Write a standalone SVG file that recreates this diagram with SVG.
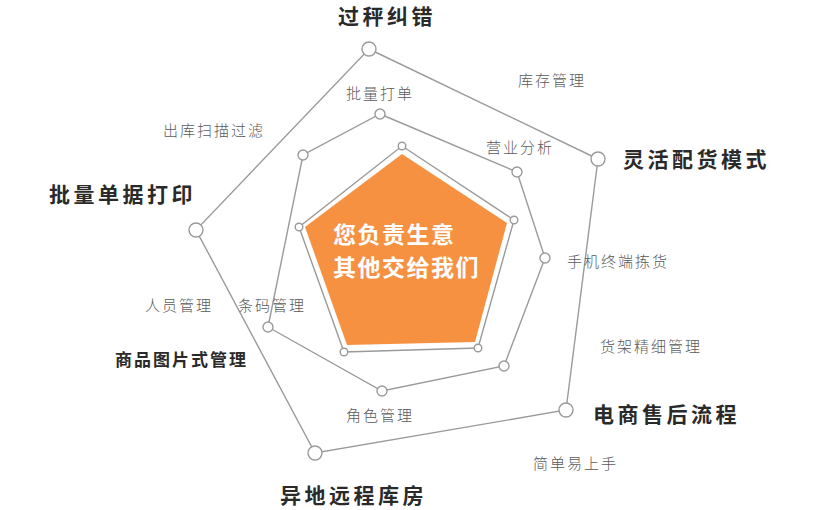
<svg xmlns="http://www.w3.org/2000/svg" width="816" height="510" viewBox="0 0 816 510">
<style>
.ln{fill:none;stroke:#9a9a9a;stroke-width:1.4}
.dot{fill:#fff;stroke:#9a9a9a;stroke-width:1.4}
.big{font-family:"Noto Sans CJK SC","Noto Sans",sans-serif;font-weight:700;font-size:21px;letter-spacing:3.5px;fill:#2a2a2a}
.mid{font-family:"Noto Sans CJK SC","Noto Sans",sans-serif;font-weight:700;font-size:17px;letter-spacing:2px;fill:#2a2a2a}
.sm{font-family:"Noto Sans CJK SC","Noto Sans",sans-serif;font-weight:300;font-size:15px;letter-spacing:2px;fill:#5a5a5a}
.ctr{font-family:"Noto Sans CJK SC","Noto Sans",sans-serif;font-weight:700;font-size:23px;letter-spacing:1.5px;fill:#fff}
</style>
<rect width="816" height="510" fill="#fff"/>
<g id="connectors">
<polygon class="ln" points="369,49 598,159 566,410 315,453 196,230"/>
<polygon class="ln" points="380,114 517,172 545,258 504,366 382,391 268,327 303,155"/>
<polygon class="ln" points="402,146 514,220 478,348 344,352 299,227"/>
</g>
<g id="core">
<polygon points="402,154 507,223 475,342 347,345 305,227" fill="#F79142"/>
<text class="ctr" x="333" y="243">您负责生意</text>
<text class="ctr" x="333" y="276">其他交给我们</text>
</g>
<g id="outer-nodes">
<circle class="dot" cx="369" cy="49" r="7"/>
<circle class="dot" cx="598" cy="159" r="7"/>
<circle class="dot" cx="566" cy="410" r="7"/>
<circle class="dot" cx="315" cy="453" r="7"/>
<circle class="dot" cx="196" cy="230" r="7"/>
</g>
<g id="middle-nodes">
<circle class="dot" cx="380" cy="114" r="5"/>
<circle class="dot" cx="517" cy="172" r="5"/>
<circle class="dot" cx="545" cy="258" r="5"/>
<circle class="dot" cx="504" cy="366" r="5"/>
<circle class="dot" cx="382" cy="391" r="5"/>
<circle class="dot" cx="268" cy="327" r="5"/>
<circle class="dot" cx="303" cy="155" r="5"/>
</g>
<g id="inner-nodes">
<circle class="dot" cx="402" cy="146" r="3.8"/>
<circle class="dot" cx="514" cy="220" r="3.8"/>
<circle class="dot" cx="478" cy="348" r="3.8"/>
<circle class="dot" cx="344" cy="352" r="3.8"/>
<circle class="dot" cx="299" cy="227" r="3.8"/>
</g>
<g id="main-labels">
<text class="big" x="338" y="24">过秤纠错</text>
<text class="big" x="623" y="167">灵活配货模式</text>
<text class="big" x="49" y="202">批量单据打印</text>
<text class="mid" x="115" y="366">商品图片式管理</text>
<text class="big" x="593" y="422">电商售后流程</text>
<text class="big" x="280" y="503">异地远程库房</text>
</g>
<g id="feature-labels">
<text class="sm" x="518" y="86">库存管理</text>
<text class="sm" x="346" y="99">批量打单</text>
<text class="sm" x="163" y="136">出库扫描过滤</text>
<text class="sm" x="486" y="153">营业分析</text>
<text class="sm" x="567" y="267">手机终端拣货</text>
<text class="sm" x="145" y="311">人员管理</text>
<text class="sm" x="238" y="311">条码管理</text>
<text class="sm" x="600" y="352">货架精细管理</text>
<text class="sm" x="346" y="421">角色管理</text>
<text class="sm" x="533" y="469">简单易上手</text>
</g>
</svg>
